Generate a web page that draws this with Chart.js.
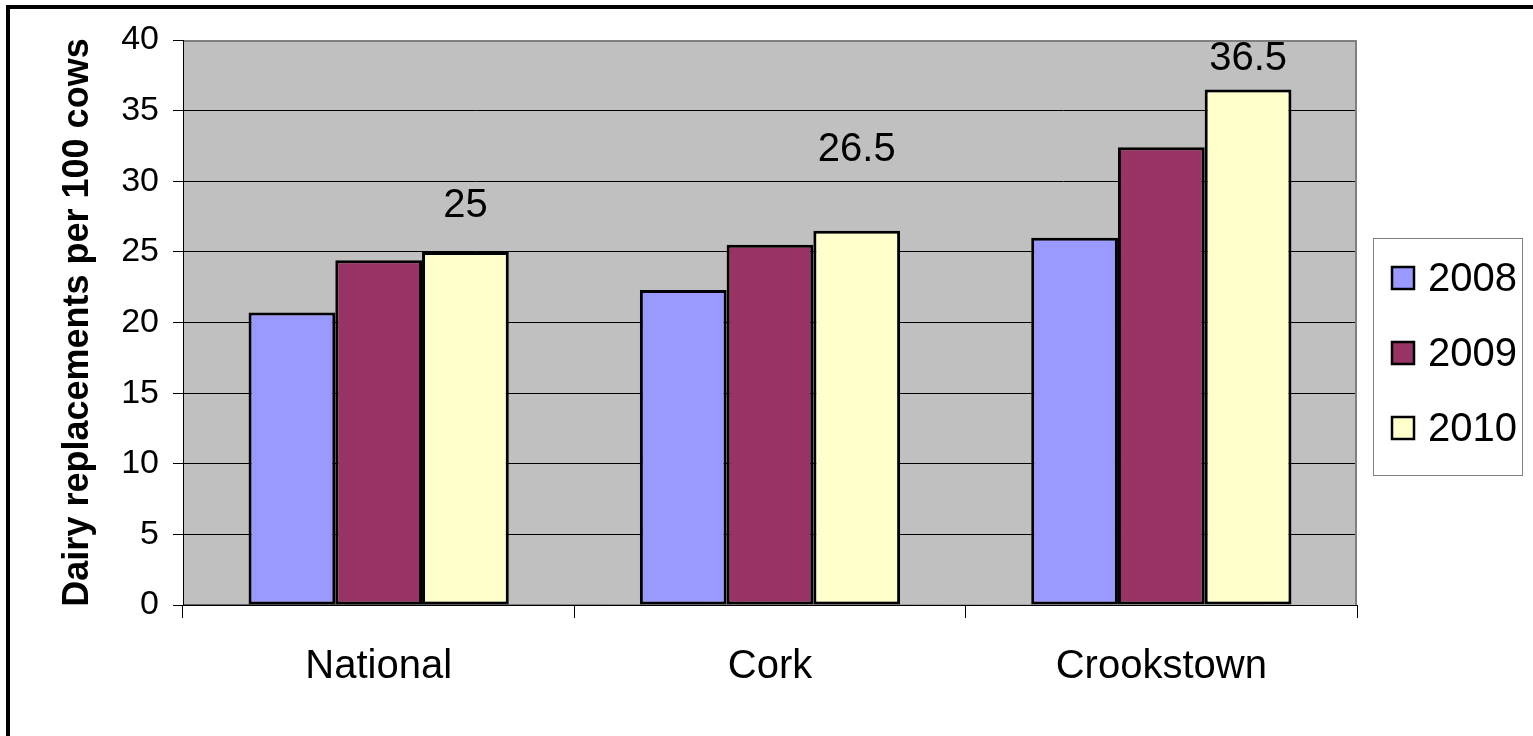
<!DOCTYPE html>
<html>
<head>
<meta charset="utf-8">
<script src="https://cdn.jsdelivr.net/npm/chart.js@4.4.1/dist/chart.umd.min.js"></script>
<style>
  html, body { margin: 0; padding: 0; background: #fff; }
  #wrap { width: 1533px; height: 736px; position: relative; }
</style>
</head>
<body>
<div id="wrap"><canvas id="c" width="1533" height="736"></canvas></div>
<script>
const categories = ['National', 'Cork', 'Crookstown'];
const seriesNames = ['2008', '2009', '2010'];
const values2008 = [20.7, 22.3, 26.0];
const values2009 = [24.4, 25.5, 32.4];
const values2010 = [25, 26.5, 36.5];
const yTicks = [0, 5, 10, 15, 20, 25, 30, 35, 40];
const yTitle = 'Dairy replacements per 100 cows';

const colors = ['#9999FF', '#993366', '#FFFFCC'];
const FONT = '"Liberation Sans", Arial, sans-serif';

const frame = {
  id: 'frame',
  beforeDraw(chart) {
    const { ctx, chartArea: a } = chart;
    ctx.save();
    ctx.fillStyle = '#fff';
    ctx.fillRect(0, 0, chart.width, chart.height);
    ctx.fillStyle = '#C0C0C0';
    ctx.fillRect(a.left, a.top, a.right - a.left, a.bottom - a.top);
    ctx.restore();
  },
  afterDatasetsDraw(chart) {
    const { ctx, chartArea: a } = chart;
    ctx.save();
    ctx.strokeStyle = '#808080';
    ctx.lineWidth = 2;
    ctx.beginPath();
    ctx.moveTo(a.left, a.top + 1);
    ctx.lineTo(a.right - 1, a.top + 1);
    ctx.lineTo(a.right - 1, a.bottom);
    ctx.stroke();
    ctx.strokeStyle = '#000';
    ctx.lineWidth = 1;
    ctx.beginPath();
    ctx.moveTo(a.left + 0.5, a.top);
    ctx.lineTo(a.left + 0.5, a.bottom);
    ctx.lineTo(a.right, a.bottom + 0.5);
    ctx.stroke();
    ctx.strokeStyle = '#000';
    ctx.lineWidth = 4;
    ctx.strokeRect(8, 7, chart.width + 20, chart.height + 20);
    ctx.restore();
  }
};

const valueLabels = {
  id: 'valueLabels',
  afterDatasetsDraw(chart, args, opts) {
    const { ctx } = chart;
    const ds = opts.datasetIndex;
    const meta = chart.getDatasetMeta(ds);
    ctx.save();
    ctx.fillStyle = '#000';
    ctx.font = '40px ' + FONT;
    ctx.textAlign = 'center';
    ctx.textBaseline = 'middle';
    meta.data.forEach((bar, i) => {
      const v = chart.data.datasets[ds].data[i];
      ctx.fillText(String(v), bar.x, bar.y - opts.offsets[i]);
    });
    ctx.restore();
  }
};

const boxLegend = {
  id: 'boxLegend',
  afterDraw(chart, args, opts) {
    const { ctx } = chart;
    ctx.save();
    ctx.strokeStyle = '#808080';
    ctx.lineWidth = 1;
    ctx.strokeRect(opts.x + 0.5, opts.y + 0.5, opts.w, opts.h);
    ctx.font = '40px ' + FONT;
    ctx.textBaseline = 'middle';
    ctx.textAlign = 'left';
    chart.data.datasets.forEach((d, i) => {
      const cy = opts.y + opts.firstRow + i * opts.rowGap;
      ctx.fillStyle = d.backgroundColor;
      ctx.fillRect(opts.x + opts.boxX, cy - opts.box / 2, opts.box, opts.box);
      ctx.strokeStyle = '#000';
      ctx.lineWidth = 2.5;
      ctx.strokeRect(opts.x + opts.boxX, cy - opts.box / 2, opts.box, opts.box);
      ctx.fillStyle = '#000';
      ctx.fillText(d.label, opts.x + opts.textX, cy + 2);
    });
    ctx.restore();
  }
};

const datasetsValues = [values2008, values2009, values2010];

new Chart(document.getElementById('c'), {
  type: 'bar',
  data: {
    labels: categories,
    datasets: seriesNames.map((name, i) => ({
      label: name,
      data: datasetsValues[i],
      backgroundColor: colors[i],
      borderColor: '#000',
      borderWidth: 3,
      borderSkipped: false,
      categoryPercentage: 0.665,
      barPercentage: 1.0
    }))
  },
  options: {
    responsive: false,
    animation: false,
    layout: { padding: { left: 10, top: 40, right: 176, bottom: 0 } },
    plugins: {
      legend: { display: false },
      tooltip: { enabled: false },
      valueLabels: { datasetIndex: 2, offsets: [46, 81, 30] },
      boxLegend: { x: 1373, y: 238, w: 149, h: 237, firstRow: 40, rowGap: 75, box: 22, boxX: 19, textX: 55 }
    },
    scales: {
      x: {
        afterFit(scale) { scale.height = 131; },
        grid: { offset: true, drawOnChartArea: false, color: '#000', lineWidth: 1, tickLength: 13 },
        border: { display: false },
        ticks: { color: '#000', font: { family: FONT, size: 40 }, padding: 25, maxRotation: 0 }
      },
      y: {
        min: 0, max: 40,
        afterFit(scale) { scale.width = 173; },
        afterBuildTicks(scale) { scale.ticks = yTicks.map(v => ({ value: v })); },
        grid: { color: '#000', lineWidth: 1, tickLength: 10 },
        border: { display: false },
        ticks: { color: '#000', font: { family: FONT, size: 34 }, padding: 14 },
        title: { display: true, text: yTitle, color: '#000', font: { family: FONT, size: 36, weight: 'bold' }, padding: { top: 46, bottom: 0 } }
      }
    }
  },
  plugins: [frame, valueLabels, boxLegend]
});
</script>
</body>
</html>
